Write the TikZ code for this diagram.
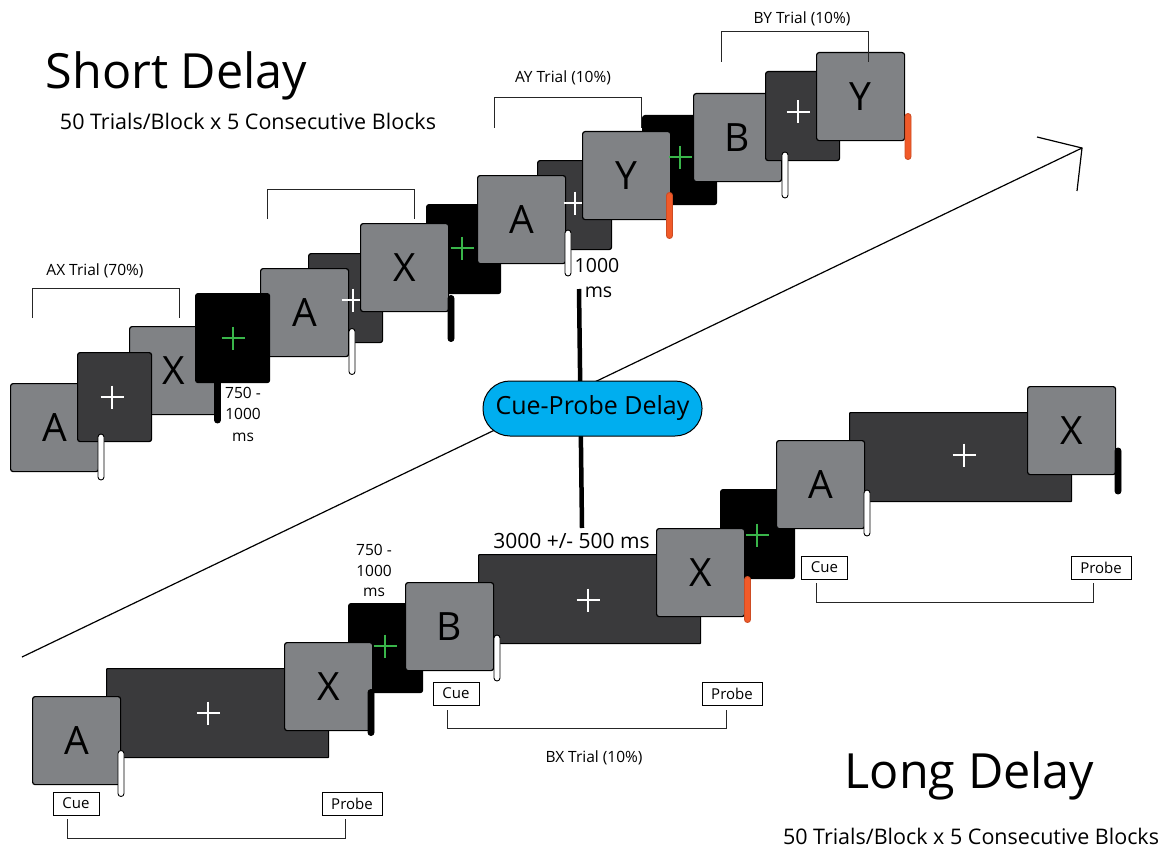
\documentclass[tikz,border=0pt]{standalone}
\usepackage{fontspec}
\setmainfont{Open Sans}
\definecolor{gboxc}{HTML}{808285}
\definecolor{dboxc}{HTML}{3A3A3C}
\definecolor{orng}{HTML}{F15A29}
\definecolor{grn}{HTML}{39B54A}
\definecolor{cyanb}{HTML}{00AEEF}
\tikzset{
  box/.style={draw=black, line width=1.2pt, rounded corners=2.5pt, anchor=north west, inner sep=0pt, font=\fontsize{39}{39}\selectfont},
  gbox/.style={box, fill=gboxc, minimum width=88pt, minimum height=88pt},
  fxbox/.style={box, fill=dboxc, minimum width=74pt, minimum height=89pt},
  itibox/.style={box, fill=black, minimum width=74pt, minimum height=89pt},
  longbox/.style={box, fill=dboxc, minimum width=222pt, minimum height=89pt, rounded corners=0.8pt},
  barbase/.style={line width=0.9pt, rounded corners=3pt, minimum width=6pt, minimum height=46pt, inner sep=0pt},
  barw/.style={barbase, draw=black, fill=white},
  barb/.style={barbase, draw=black, fill=black},
  baro/.style={barbase, draw=orng!85!black, fill=orng},
  bracket/.style={draw=black!85, line width=1pt},
  lbl/.style={font=\fontsize{15.5}{15.5}\selectfont, anchor=base, inner sep=0pt},
  msl/.style={font=\fontsize{15.5}{15.5}\selectfont, anchor=base, inner sep=0pt},
  cuebox/.style={draw=black, line width=0.9pt, inner sep=0pt, minimum height=23pt, font=\fontsize{15}{15}\selectfont},
  titletxt/.style={font=\fontsize{48.5}{48.5}\selectfont, anchor=base, inner sep=0pt},
  subtxt/.style={font=\fontsize{21.5}{21.5}\selectfont, anchor=base, inner sep=0pt},
  crossmark/.pic={\draw[line width=2.8pt, #1] (-11.5,0) -- (11.5,0) (0,-11.5) -- (0,11.5);}
}
\begin{document}
\begin{tikzpicture}[x=1pt,y=-1pt]
\useasboundingbox (0,0) rectangle (1169,848);

% long diagonal arrow
\coordinate (arrS) at (22,657);
\coordinate (arrE) at (1082,148);
\coordinate (arrA) at (1037,137);
\coordinate (arrB) at (1077,191);
\draw[line width=1.2pt] (arrS) -- (arrE);
\draw[line width=1.2pt] (arrA) -- (arrE) -- (arrB);

% thick delay line
\coordinate (dTop) at (579,289);
\coordinate (dBot) at (582,528);
\draw[line width=4.5pt] (dTop) -- (dBot);

% ---------------- Short delay ----------------
% trial 1 (AX)
\node[gbox] (t1a) at (10,383) {A};
\node[gbox] (t1x) at (129,326) {X};
\node[fxbox] (t1f) at (77,352) {};
\pic at (112,397) {crossmark=white};
% trial 2 (AX)
\node[fxbox] (t2f) at (308,253) {};
\node[gbox] (t2a) at (260,268) {A};
\pic at (353,300) {crossmark=white};
\node[itibox] (t1i) at (195,293) {};
\pic at (233,338) {crossmark=grn};
\node[itibox] (t2i) at (426,204) {};
\node[gbox] (t2x) at (360,223) {X};
\pic at (462,248) {crossmark=grn};
% trial 3 (AY)
\node[fxbox] (t3f) at (537,160) {};
\node[gbox] (t3a) at (477,175) {A};
\pic at (575,203) {crossmark=white};
\node[itibox] (t3i) at (642,115) {};
\node[gbox] (t3y) at (582,131) {Y};
\pic at (680,157) {crossmark=grn};
% trial 4 (BY)
\node[gbox] (t4b) at (693,93) {B};
\node[fxbox] (t4f) at (765,71) {};
\pic at (798,112) {crossmark=white};
\node[gbox] (t4y) at (816,52) {Y};

% response bars (short)
\node[barw] (m1) at (101,457) {};
\node[barb] (m2) at (217.5,400) {};
\node[barw] (m3) at (352,351.5) {};
\node[barb] (m4) at (451,318.5) {};
\node[barw] (m5) at (568,253) {};
\node[baro] (m6) at (669.5,215.5) {};
\node[barw] (m7) at (785,175) {};
\node[baro] (m8) at (908,136.5) {};

% brackets (short)
\coordinate (b1l) at (32,318); \coordinate (b1r) at (179,318);
\draw[bracket] (b1l) -- (b1l |- 0,288) -- (b1r |- 0,288) -- (b1r);
\coordinate (b2l) at (267,219); \coordinate (b2r) at (414,219);
\draw[bracket] (b2l) -- (b2l |- 0,189) -- (b2r |- 0,189) -- (b2r);
\coordinate (b3l) at (494,128); \coordinate (b3r) at (641,128);
\draw[bracket] (b3l) -- (b3l |- 0,98) -- (b3r |- 0,98) -- (b3r);
\coordinate (b4l) at (721,62); \coordinate (b4r) at (868,62);
\draw[bracket] (b4l) -- (b4l |- 0,32) -- (b4r |- 0,32) -- (b4r);

\node[lbl] (lax) at (95,275) {AX Trial (70\%)};
\node[lbl] (lay) at (563,83) {AY Trial (10\%)};
\node[lbl] (lby) at (802,24) {BY Trial (10\%)};

\node[msl] (s750) at (243,398) {750 -};
\node[msl] (s1000) at (243,419.5) {1000};
\node[msl] (sms) at (243,441) {ms};

\node[font=\fontsize{19.5}{19.5}\selectfont, anchor=base, inner sep=0pt] (c1000) at (597,272) {1000};
\node[font=\fontsize{19.5}{19.5}\selectfont, anchor=base, inner sep=0pt] (cms) at (598.5,297) {ms};

% ---------------- Long delay ----------------
\node[longbox] (l1f) at (106,668) {};
\pic at (208,713) {crossmark=white};
\node[gbox] (l1a) at (32,696) {A};
\node[itibox] (l1i) at (348,603) {};
\pic at (385,646) {crossmark=grn};
\node[gbox] (l1x) at (284,642) {X};

\node[longbox] (l2f) at (478,554) {};
\pic at (588,600) {crossmark=white};
\node[gbox] (l2b) at (405,582) {B};
\node[itibox] (l2i) at (720,489) {};
\pic at (757,535) {crossmark=grn};
\node[gbox] (l2x) at (656,528) {X};

\node[longbox] (l3f) at (849,412) {};
\pic at (964,455) {crossmark=white};
\node[gbox] (l3a) at (776,440) {A};
\node[gbox] (l3x) at (1027,386) {X};

% response bars (long)
\node[barw] (n1) at (121,773.5) {};
\node[barb] (n2) at (371,712.5) {};
\node[barw] (n3) at (497,658) {};
\node[baro] (n4) at (747.5,599.5) {};
\node[barw] (n5) at (867,513) {};
\node[barb] (n6) at (1118,471) {};

% cue / probe labels
\node[cuebox, minimum width=46pt] (cue1) at (76,803.5) {Cue};
\node[cuebox, minimum width=60pt] (prb1) at (352,803.5) {Probe};
\node[cuebox, minimum width=46pt] (cue2) at (456,693.5) {Cue};
\node[cuebox, minimum width=60pt] (prb2) at (732,693.5) {Probe};
\node[cuebox, minimum width=46pt] (cue3) at (824.5,567.5) {Cue};
\node[cuebox, minimum width=60pt] (prb3) at (1101,567.5) {Probe};

% brackets (long)
\coordinate (k1l) at (67,819); \coordinate (k1r) at (345,819);
\draw[bracket] (k1l) -- (k1l |- 0,838) -- (k1r |- 0,838) -- (k1r);
\coordinate (k2l) at (447,710); \coordinate (k2r) at (726,710);
\draw[bracket] (k2l) -- (k2l |- 0,728) -- (k2r |- 0,728) -- (k2r);
\coordinate (k3l) at (816,583); \coordinate (k3r) at (1093,583);
\draw[bracket] (k3l) -- (k3l |- 0,602) -- (k3r |- 0,602) -- (k3r);

\node[lbl] (lbx) at (594,762) {BX Trial (10\%)};

\node[msl] (l750) at (374,555) {750 -};
\node[msl] (l1000) at (374,576) {1000};
\node[msl] (lms) at (374,596) {ms};

\node[font=\fontsize{21}{21}\selectfont, anchor=base, inner sep=0pt] (l3000) at (571.5,548) {3000 +/- 500 ms};

% cue-probe delay
\node[draw=black, line width=1pt, fill=cyanb, rounded corners=27pt, minimum width=219pt, minimum height=55pt, inner sep=0pt, font=\fontsize{25}{25}\selectfont] (cpd) at (592.5,408.5) {Cue-Probe Delay};

% titles
\node[titletxt] (sdt) at (176.5,89) {Short Delay};
\node[subtxt] (sds) at (248,130) {50 Trials/Block x 5 Consecutive Blocks};
\node[titletxt] (ldt) at (969.5,788) {Long Delay};
\node[subtxt] (lds) at (971,844) {50 Trials/Block x 5 Consecutive Blocks};
\end{tikzpicture}
\end{document}
